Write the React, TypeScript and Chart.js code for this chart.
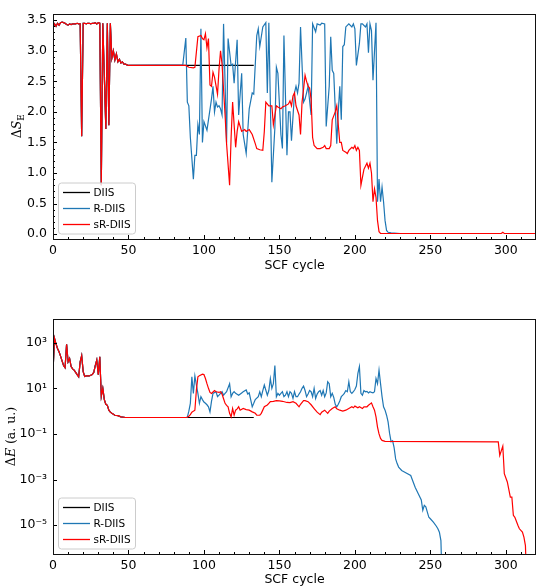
import React, { useEffect, useRef } from "react";
import { Chart, registerables } from "chart.js";
Chart.register(...registerables);

const SANS = "'DejaVu Sans', sans-serif";
const SERIF = "'DejaVu Serif', serif";

type Pt = [number, number];

// ---------------- DATA ----------------
const seriesLabels = ["DIIS", "R-DIIS", "sR-DIIS"];
const seriesColors = ["#000000", "#1f77b4", "#ff0000"];

// Top panel: ΔS_E vs SCF cycle (shared beginning of all three runs)
const seCommon: Pt[] = [
  [0, 3.38], [1, 3.44], [2, 3.40], [3, 3.45], [4, 3.42], [5, 3.46], [6, 3.47], [7, 3.46], [8, 3.45], [9, 3.43],
  [10, 3.42], [11, 3.44], [12, 3.43], [13, 3.44], [14, 3.44], [15, 3.44], [16, 3.45], [17, 3.44], [18, 3.44], [19, 1.60],
  [20, 3.45], [21, 3.45], [22, 3.44], [23, 3.45], [24, 3.45], [25, 3.44], [26, 3.45], [27, 3.45], [28, 3.46], [29, 3.44],
  [30, 3.46], [31, 3.45], [32, 0.80], [33, 3.45], [35, 1.72], [36, 3.45], [37, 1.78], [38, 3.45], [39, 2.88], [40, 3.00],
  [41, 2.85], [42, 2.95], [43, 2.82], [44, 2.86], [45, 2.80], [46, 2.82], [47, 2.78], [48, 2.78], [49, 2.77], [50, 2.76],
];
const seDIIS: Pt[] = [[86, 2.76], [133, 2.76]];
const seRDIIS: Pt[] = [
  [86, 2.77], [88, 3.21], [89, 2.16], [90, 2.10], [91, 1.58], [93, 0.90], [94, 1.29], [95, 1.29], [96, 1.79], [97, 1.63],
  [98, 3.36], [99, 1.50], [100, 1.84], [102, 1.70], [103, 1.87], [105, 2.21], [106, 2.42], [107, 2.0], [108, 2.16], [109, 2.08],
  [110, 2.1], [111, 2.05], [112, 1.95], [113, 3.44], [115, 1.50], [116, 3.20], [118, 2.76], [119, 2.78], [120, 2.47], [122, 3.18],
  [123, 1.95], [125, 2.63], [126, 1.63], [128, 1.32], [130, 2.05], [132, 2.31], [133, 2.29], [135, 3.25], [136, 3.36], [137, 3.07],
  [139, 3.39], [141, 3.46], [142, 2.31], [143, 3.46], [145, 0.85], [147, 1.74], [148, 2.73], [149, 2.63], [151, 1.63], [152, 1.40],
  [153, 3.25], [155, 1.29], [156, 2.0], [157, 2.0], [158, 1.53], [160, 2.31], [161, 2.42], [162, 2.31], [163, 2.47], [164, 3.39],
  [166, 2.16], [167, 2.21], [168, 2.31], [169, 2.42], [171, 1.95], [172, 3.44], [174, 3.31], [175, 3.44], [177, 3.42], [178, 3.45],
  [180, 3.44], [181, 1.76], [183, 2.42], [184, 3.23], [185, 2.68], [186, 2.63], [188, 1.48], [189, 2.0], [190, 2.42], [191, 1.87],
  [192, 3.07], [193, 3.10], [194, 3.39], [196, 3.44], [198, 3.39], [199, 3.44], [200, 3.36], [201, 2.76], [203, 3.12], [204, 3.44],
  [205, 3.44], [207, 3.39], [208, 3.44], [209, 2.97], [210, 3.44], [211, 3.33], [212, 2.52], [214, 3.46], [215, 0.53], [216, 0.90],
  [217, 0.53], [218, 0.77], [219, 0.53], [220, 0.22], [221, 0.06], [222, 0.03], [224, 0.02], [230, 0.01], [258, 0.01],
];
const seSRDIIS: Pt[] = [
  [88, 2.76], [90, 2.73], [93, 2.72], [94, 2.73], [96, 3.23], [98, 3.25], [99, 3.20], [100, 3.18], [101, 3.28], [102, 3.05],
  [103, 3.20], [104, 2.44], [105, 2.42], [106, 2.65], [107, 2.57], [109, 2.29], [110, 2.7], [111, 3.0], [112, 2.78], [114, 1.95],
  [115, 1.48], [117, 0.80], [118, 1.58], [119, 2.16], [121, 1.42], [122, 1.68], [123, 1.84], [125, 1.68], [127, 1.71], [128, 1.68],
  [130, 1.71], [132, 1.63], [134, 1.48], [135, 1.40], [137, 1.38], [139, 1.37], [140, 1.68], [141, 2.16], [143, 2.10], [145, 2.10],
  [146, 1.79], [148, 2.10], [149, 2.08], [151, 2.05], [152, 2.08], [154, 2.10], [156, 2.13], [157, 2.18], [158, 2.10], [159, 2.26],
  [160, 2.31], [161, 2.10], [163, 1.95], [164, 1.63], [165, 2.16], [166, 2.37], [167, 2.60], [168, 2.50], [169, 2.42], [170, 2.39],
  [171, 2.21], [172, 1.58], [173, 1.45], [175, 1.40], [177, 1.40], [179, 1.42], [180, 1.45], [181, 1.40], [183, 1.40], [184, 1.45],
  [185, 1.87], [187, 2.0], [188, 2.10], [189, 1.79], [190, 1.50], [191, 1.50], [192, 1.37], [194, 1.34], [195, 1.32], [196, 1.37],
  [198, 1.42], [199, 1.40], [200, 1.45], [201, 1.37], [202, 1.42], [203, 1.37], [204, 0.80], [206, 1.06], [207, 1.11], [208, 1.16],
  [209, 1.08], [210, 1.16], [211, 1.0], [212, 0.53], [213, 0.74], [214, 0.60], [215, 0.22], [216, 0.04], [217, 0.01], [297, 0.01],
  [298, 0.03], [299, 0.01], [320, 0.01],
];

// Bottom panel: ΔE (a.u.) vs SCF cycle
const deCommon: Pt[] = [
  [0, 54], [1, 1550], [2, 890], [3, 560], [4, 400], [5, 260], [6, 160], [7, 100], [8, 80], [9, 850],
  [10, 145], [11, 205], [12, 90], [13, 71], [14, 63], [15, 50], [16, 40], [17, 32], [18, 145], [19, 270],
  [20, 54], [21, 33], [22, 35], [24, 35], [26, 40], [27, 50], [28, 100], [29, 175], [30, 40], [31, 240],
  [32, 4.5], [33, 10], [34, 3.2], [35, 2.0], [36, 1.8], [37, 1.1], [38, 0.9], [39, 0.8], [41, 0.66], [43, 0.63],
  [45, 0.56], [48, 0.525],
];
const deDIIS: Pt[] = [[88, 0.525], [133, 0.525]];
const deRDIIS: Pt[] = [
  [88, 0.525], [89, 0.55], [90, 1.0], [91, 2.2], [92, 32], [93, 6.0], [94, 35], [95, 14], [96, 6.0], [97, 2.2],
  [98, 4.3], [99, 3.2], [100, 2.5], [101, 2.2], [102, 1.9], [103, 1.55], [104, 0.93], [105, 2.7], [106, 6.0], [108, 7.1],
  [109, 4.3], [110, 5.0], [112, 7.1], [113, 5.0], [114, 6.0], [115, 7.1], [117, 16], [118, 4.3], [119, 6.0], [120, 7.1],
  [121, 6.0], [123, 5.0], [125, 6.3], [126, 7.1], [128, 8.5], [129, 5.6], [130, 6.3], [132, 1.55], [133, 2.2], [134, 3.2],
  [136, 4.3], [137, 7.1], [138, 4.3], [139, 8.0], [140, 14], [142, 5.0], [143, 8.0], [144, 27], [145, 10], [146, 16],
  [147, 100], [148, 4.3], [149, 6.0], [150, 5.0], [151, 6.0], [152, 7.1], [153, 4.3], [154, 5.0], [155, 7.1], [156, 4.3],
  [157, 7.1], [158, 6.0], [159, 3.6], [160, 7.1], [161, 4.3], [162, 4.3], [163, 5.6], [164, 7.1], [165, 10], [166, 12.6],
  [167, 8.0], [168, 4.3], [169, 5.6], [170, 8.0], [171, 7.1], [172, 4.3], [173, 10], [174, 3.6], [175, 5.6], [176, 7.1],
  [177, 8.0], [178, 5.0], [179, 8.0], [180, 4.3], [181, 6.3], [182, 19.5], [183, 16], [184, 4.3], [185, 6.0], [186, 4.0],
  [187, 2.0], [188, 1.55], [189, 2.0], [190, 2.8], [191, 4.3], [192, 5.0], [193, 6.0], [194, 8.0], [195, 7.1], [196, 19.5],
  [197, 7.1], [198, 6.0], [199, 7.1], [200, 8.9], [201, 12.6], [202, 45], [203, 89], [204, 6.0], [205, 5.0], [206, 8.0],
  [207, 7.1], [208, 7.4], [209, 6.3], [210, 7.1], [211, 6.6], [212, 6.3], [213, 7.1], [214, 27], [215, 16], [216, 63],
  [217, 16], [218, 4.3], [219, 1.55], [220, 1.1], [221, 0.66], [222, 0.34], [223, 0.105], [224, 0.045], [225, 0.05], [226, 0.025],
  [227, 0.008], [228, 0.005], [229, 0.0035], [231, 0.0025], [234, 0.00195], [237, 0.0015], [238, 0.001], [240, 0.00045], [242, 0.00024], [244, 0.000126],
  [245, 4.5e-5], [246, 7.4e-5], [247, 6.3e-5], [249, 2.2e-5], [250, 1.9e-5], [252, 1.35e-5], [254, 8.9e-6], [255, 6.9e-6], [256, 4.9e-6], [257, 2.1e-6],
  [258, 1e-8],
];
const deSRDIIS: Pt[] = [
  [88, 0.525], [89, 0.54], [90, 0.6], [91, 0.7], [92, 0.89], [93, 1.0], [94, 1.1], [95, 8.5], [96, 32], [97, 36],
  [99, 42], [100, 40], [101, 27], [102, 16], [103, 10], [104, 6.6], [105, 6.0], [107, 8.0], [108, 7.1], [110, 6.6],
  [111, 7.1], [112, 5.6], [113, 3.5], [114, 2.2], [115, 1.8], [116, 1.55], [117, 0.8], [118, 0.56], [119, 1.3], [120, 0.66],
  [121, 1.1], [122, 1.26], [123, 1.55], [124, 1.1], [126, 1.3], [128, 1.17], [130, 1.1], [132, 0.93], [134, 0.8], [135, 0.66],
  [137, 0.66], [138, 0.8], [140, 1.55], [142, 1.86], [143, 2.2], [144, 2.6], [146, 2.7], [148, 2.9], [150, 2.8], [152, 2.7],
  [155, 2.4], [157, 2.35], [159, 2.6], [161, 2.2], [163, 1.55], [164, 2.0], [166, 2.9], [167, 2.9], [169, 2.6], [171, 1.9],
  [173, 1.3], [175, 0.9], [177, 0.7], [178, 0.9], [180, 1.1], [182, 0.8], [183, 1.0], [185, 1.3], [187, 1.55], [188, 1.26],
  [190, 1.1], [192, 1.0], [194, 1.1], [196, 1.3], [198, 1.55], [199, 1.4], [200, 1.66], [202, 1.4], [203, 1.55], [205, 1.3],
  [206, 1.55], [208, 1.55], [209, 1.8], [211, 2.3], [212, 1.55], [213, 1.1], [214, 0.56], [215, 0.2], [216, 0.1], [217, 0.063],
  [218, 0.052], [220, 0.047], [295, 0.045], [296, 0.0115], [298, 0.029], [299, 0.0018], [301, 7.8e-4], [303, 1.7e-4], [304, 1.7e-4], [305, 2.7e-5],
  [306, 2.2e-5], [308, 9.8e-6], [309, 6.9e-6], [311, 4.9e-6], [312, 2.95e-6], [313, 1.26e-6], [314, 1e-8],
];

// Axis ticks
const xMajorTicks = [0, 50, 100, 150, 200, 250, 300];
const xMinorTicks = [10, 20, 30, 40, 60, 70, 80, 90, 110, 120, 130, 140, 160, 170, 180, 190, 210, 220, 230, 240, 260, 270, 280, 290, 310];
const seMajorTicks = [0.0, 0.5, 1.0, 1.5, 2.0, 2.5, 3.0, 3.5];
const seMinorTicks = [0.1, 0.2, 0.3, 0.4, 0.6, 0.7, 0.8, 0.9, 1.1, 1.2, 1.3, 1.4, 1.6, 1.7, 1.8, 1.9, 2.1, 2.2, 2.3, 2.4, 2.6, 2.7, 2.8, 2.9, 3.1, 3.2, 3.3, 3.4];
const deMajorTicks = [1e3, 1e1, 1e-1, 1e-3, 1e-5];
const deTickLabels = ["10\u00B3", "10\u00B9", "10\u207B\u00B9", "10\u207B\u00B3", "10\u207B\u2075"];
const deMinorTicks: number[] = [];
const xTitle = "SCF cycle";

// ---------------- HELPERS ----------------
const xy = (pts: Pt[]) => pts.map(([x, y]) => ({ x, y }));

type Part = { t: string; italic?: boolean; sub?: boolean };

function decorPlugin(o: {
  xTitleY: number;
  yTitleX: number;
  yTitle: Part[];
  yMajor: number[];
  yMinor: number[];
}) {
  return {
    id: "decor",
    afterDraw(chart: any) {
      const { ctx, chartArea: a, scales } = chart;
      const xs = scales.x;
      const ys = scales.y;
      const L = Math.round(a.left);
      const R = Math.round(a.right);
      const T = Math.round(a.top);
      const B = Math.round(a.bottom);
      ctx.save();
      ctx.strokeStyle = "#000";
      ctx.lineWidth = 1;
      ctx.beginPath();
      const vx = (v: number, len: number) => {
        const px = Math.round(xs.getPixelForValue(v)) + 0.5;
        ctx.moveTo(px, B);
        ctx.lineTo(px, B - len);
      };
      const vy = (v: number, len: number) => {
        const py = Math.round(ys.getPixelForValue(v)) + 0.5;
        if (py < T || py > B) return;
        ctx.moveTo(L, py);
        ctx.lineTo(L + len, py);
      };
      xMajorTicks.forEach((v) => vx(v, 4));
      xMinorTicks.forEach((v) => vx(v, 2));
      o.yMajor.forEach((v) => vy(v, 4));
      o.yMinor.forEach((v) => vy(v, 2));
      ctx.stroke();
      // frame
      ctx.strokeStyle = "#111";
      ctx.strokeRect(L + 0.5, T + 0.5, R - L - 1, B - T);

      // x title
      ctx.fillStyle = "#000";
      ctx.font = `12.5px ${SANS}`;
      ctx.textAlign = "center";
      ctx.textBaseline = "middle";
      ctx.fillText(xTitle, (a.left + a.right) / 2, o.xTitleY);

      // y title (rotated, math-style)
      ctx.save();
      ctx.translate(o.yTitleX, (a.top + a.bottom) / 2);
      ctx.rotate(-Math.PI / 2);
      ctx.textAlign = "left";
      ctx.textBaseline = "alphabetic";
      const fontFor = (p: Part) => `${p.italic ? "italic " : ""}${p.sub ? 9 : 12.5}px ${SERIF}`;
      let total = 0;
      o.yTitle.forEach((p) => {
        ctx.font = fontFor(p);
        total += ctx.measureText(p.t).width;
      });
      let cx = -total / 2;
      o.yTitle.forEach((p) => {
        ctx.font = fontFor(p);
        ctx.fillText(p.t, cx, p.sub ? 3 : 0);
        cx += ctx.measureText(p.t).width;
      });
      ctx.restore();

      // legend
      const bw = 77;
      const bh = 51;
      const bx = a.left + 5.5;
      const by = a.bottom - 5 - bh;
      ctx.beginPath();
      const r = 3;
      ctx.moveTo(bx + r, by);
      ctx.lineTo(bx + bw - r, by);
      ctx.quadraticCurveTo(bx + bw, by, bx + bw, by + r);
      ctx.lineTo(bx + bw, by + bh - r);
      ctx.quadraticCurveTo(bx + bw, by + bh, bx + bw - r, by + bh);
      ctx.lineTo(bx + r, by + bh);
      ctx.quadraticCurveTo(bx, by + bh, bx, by + bh - r);
      ctx.lineTo(bx, by + r);
      ctx.quadraticCurveTo(bx, by, bx + r, by);
      ctx.closePath();
      ctx.fillStyle = "rgba(255,255,255,0.8)";
      ctx.fill();
      ctx.strokeStyle = "#cccccc";
      ctx.stroke();
      chart.data.datasets.forEach((ds: any, i: number) => {
        const y = by + 9.5 + 16 * i;
        ctx.strokeStyle = ds.borderColor;
        ctx.lineWidth = 1.3;
        ctx.beginPath();
        ctx.moveTo(bx + 4.5, y);
        ctx.lineTo(bx + 31.5, y);
        ctx.stroke();
        ctx.fillStyle = "#000";
        ctx.font = `10.5px ${SANS}`;
        ctx.textAlign = "left";
        ctx.textBaseline = "middle";
        ctx.fillText(ds.label, bx + 35, y + 0.5);
      });
      ctx.restore();
    },
  };
}

function makeDatasets(common: Pt[], parts: Pt[][]) {
  return parts.map((p, i) => ({
    label: seriesLabels[i],
    data: xy([...common, ...p]),
    borderColor: seriesColors[i],
    backgroundColor: seriesColors[i],
    borderWidth: 1.2,
    pointRadius: 0,
    tension: 0,
    fill: false,
    // later series are drawn on top (like matplotlib)
    order: parts.length - 1 - i,
  }));
}

const xScale = (axisHeight: number) => ({
  type: "linear",
  min: 0,
  max: 320,
  grid: { display: false, drawTicks: false },
  border: { display: false },
  ticks: {
    autoSkip: false,
    maxRotation: 0,
    padding: 4,
    color: "#000",
    font: { family: SANS, size: 12.5 },
    callback: (v: any) => String(v),
  },
  afterBuildTicks: (s: any) => {
    s.ticks = xMajorTicks.map((v) => ({ value: v }));
  },
  afterFit: (s: any) => {
    s.height = axisHeight;
  },
});

export default function App() {
  const topRef = useRef<HTMLCanvasElement>(null);
  const botRef = useRef<HTMLCanvasElement>(null);

  useEffect(() => {
    const top = new Chart(topRef.current as HTMLCanvasElement, {
      type: "line",
      data: { datasets: makeDatasets(seCommon, [seDIIS, seRDIIS, seSRDIIS]) as any },
      options: {
        animation: false,
        responsive: false,
        devicePixelRatio: 1,
        layout: { padding: { top: 5, right: 1, left: 0, bottom: 0 } },
        plugins: { legend: { display: false }, tooltip: { enabled: false } },
        scales: {
          x: xScale(55) as any,
          y: {
            type: "linear",
            min: -0.08,
            max: 3.61,
            grid: { display: false, drawTicks: false },
            border: { display: false },
            ticks: {
              padding: 6,
              color: "#000",
              font: { family: SANS, size: 12.5 },
              callback: (v: any) => Number(v).toFixed(1),
            },
            afterBuildTicks: (s: any) => {
              s.ticks = seMajorTicks.map((v) => ({ value: v }));
            },
            afterFit: (s: any) => {
              s.width = 53;
            },
          } as any,
        },
      },
      plugins: [
        decorPlugin({
          xTitleY: 266,
          yTitleX: 20.5,
          yTitle: [{ t: "\u0394" }, { t: "S", italic: true }, { t: "E", sub: true }],
          yMajor: seMajorTicks,
          yMinor: seMinorTicks,
        }),
      ],
    });

    const bot = new Chart(botRef.current as HTMLCanvasElement, {
      type: "line",
      data: { datasets: makeDatasets(deCommon, [deDIIS, deRDIIS, deSRDIIS]) as any },
      options: {
        animation: false,
        responsive: false,
        devicePixelRatio: 1,
        layout: { padding: { top: 25, right: 1, left: 0, bottom: 0 } },
        plugins: { legend: { display: false }, tooltip: { enabled: false } },
        scales: {
          x: xScale(34) as any,
          y: {
            type: "logarithmic",
            min: 5.4e-7,
            max: 1.1e4,
            grid: { display: false, drawTicks: false },
            border: { display: false },
            ticks: {
              padding: 6,
              color: "#000",
              font: { family: SANS, size: 12.5 },
              callback: (v: any) => {
                const i = deMajorTicks.findIndex((t) => Math.abs(Math.log10(t) - Math.log10(Number(v))) < 1e-6);
                return i >= 0 ? deTickLabels[i] : "";
              },
            },
            afterBuildTicks: (s: any) => {
              s.ticks = deMajorTicks.map((v) => ({ value: v }));
            },
            afterFit: (s: any) => {
              s.width = 53;
            },
          } as any,
        },
      },
      plugins: [
        decorPlugin({
          xTitleY: 286,
          yTitleX: 14.5,
          yTitle: [{ t: "\u0394" }, { t: "E", italic: true }, { t: " (a. u.)" }],
          yMajor: deMajorTicks,
          yMinor: deMinorTicks,
        }),
      ],
    });

    return () => {
      top.destroy();
      bot.destroy();
    };
  }, []);

  return (
    <div style={{ position: "fixed", left: 0, top: 0, width: 537, height: 588, background: "#fff" }}>
      <canvas
        ref={topRef}
        width={537}
        height={294}
        style={{ position: "absolute", left: 0, top: 0, width: 537, height: 294 }}
      />
      <canvas
        ref={botRef}
        width={537}
        height={294}
        style={{ position: "absolute", left: 0, top: 294, width: 537, height: 294 }}
      />
    </div>
  );
}
